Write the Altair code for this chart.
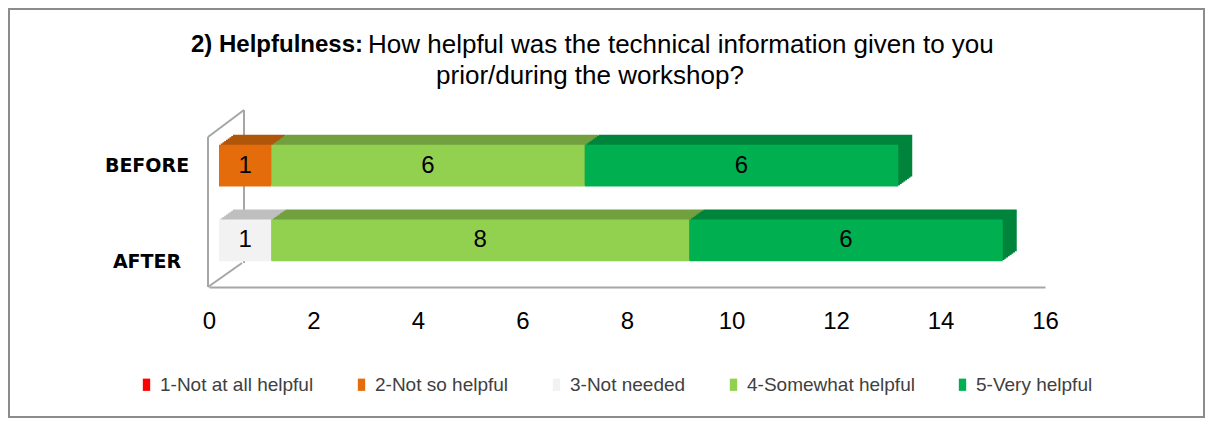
import altair as alt
import pandas as pd

# ---- data ----
periods = ["BEFORE", "AFTER"]
responses = ["1-Not at all helpful", "2-Not so helpful", "3-Not needed",
             "4-Somewhat helpful", "5-Very helpful"]
before_counts = [0, 1, 0, 6, 6]
after_counts = [0, 0, 1, 8, 6]
x_ticks = [0, 2, 4, 6, 8, 10, 12, 14, 16]
title_bold = "2) Helpfulness:"
title_rest = "How helpful was the technical information given to you"
title_line2 = "prior/during the workshop?"

# ---- styles ----
front_colors = ["#FF0000", "#E46C0A", "#F2F2F2", "#92D050", "#00B050"]
depth_colors = ["#B30000", "#B0560A", "#BFBFBF", "#73A03F", "#00843C"]
FONT = "Liberation Sans"
LABEL_FONT = "DejaVu Sans"
wall = "#A6A6A6"

rows = []
for p, counts in zip(periods, [before_counts, after_counts]):
    for i, (r, c) in enumerate(zip(responses, counts)):
        rows.append({"period": p, "response": r, "order": i, "count": c})
df = pd.DataFrame(rows)

x_scale = alt.Scale(domain=[0, 16], nice=False, zero=True)
y_scale = alt.Scale(domain=periods, paddingInner=0.44, paddingOuter=0.347)
x_axis = alt.Axis(values=x_ticks, grid=False, ticks=False, domainColor=wall,
                  domainWidth=2, labelFontSize=24, labelPadding=22, labelFlush=False,
                  labelColor="#000000", labelFont=FONT, title=None)

base = alt.Chart(df)

# pseudo-3D depth: several darker copies stepping back diagonally
N_STEPS = 8
depth_layers = []
for k in range(N_STEPS, 0, -1):
    depth_layers.append(
        base.mark_bar(xOffset=10 + 14 * k / N_STEPS, yOffset=-10 * k / N_STEPS).encode(
            x=alt.X("count:Q", stack="zero", scale=x_scale, axis=x_axis),
            y=alt.Y("period:N", scale=y_scale, axis=None),
            color=alt.Color("response:N", scale=alt.Scale(domain=responses, range=depth_colors),
                            legend=None),
            order=alt.Order("order:Q"),
        )
    )

front = base.mark_bar(xOffset=10).encode(
    x=alt.X("count:Q", stack="zero", scale=x_scale, axis=x_axis),
    y=alt.Y("period:N", scale=y_scale, axis=None),
    color=alt.Color("response:N", scale=alt.Scale(domain=responses, range=front_colors),
                    legend=alt.Legend(orient="none", legendX=-72, legendY=256,
                                      direction="horizontal", title=None,
                                      symbolType="M-0.6,-1H0.6V1H-0.6Z", symbolSize=150,
                                      symbolStrokeWidth=0, labelFontSize=19, labelFont=FONT,
                                      labelLimit=400,
                                      labelColor="#404040", labelOffset=4, columnPadding=38)),
    order=alt.Order("order:Q"),
)

values = base.transform_filter("datum.count > 0").transform_stack(
    stack="count", groupby=["period"], as_=["x0", "x1"], sort=[alt.SortField("order")]
).transform_calculate(mid="(datum.x0 + datum.x1) / 2").mark_text(
    dx=10, fontSize=24, font=FONT, color="#000000"
).encode(
    x=alt.X("mid:Q", scale=x_scale, axis=x_axis),
    y=alt.Y("period:N", scale=y_scale, axis=None),
    text="count:Q",
)

cat_df = pd.DataFrame({"period": periods})
cat_before = alt.Chart(cat_df).transform_filter("datum.period == 'BEFORE'").mark_text(
    font=LABEL_FONT, fontWeight="bold", fontSize=19, align="center", color="#000000"
).encode(y=alt.Y("period:N", scale=y_scale, axis=None), x=alt.value(-62), text="period:N")
cat_after = alt.Chart(cat_df).transform_filter("datum.period == 'AFTER'").mark_text(
    font=LABEL_FONT, fontWeight="bold", fontSize=19, align="center", dy=22, color="#000000"
).encode(y=alt.Y("period:N", scale=y_scale, axis=None), x=alt.value(-62), text="period:N")

t_df = pd.DataFrame({"a": [0]})
t1 = alt.Chart(t_df).mark_text(font=FONT, fontWeight="bold", fontSize=24, align="right",
                               baseline="middle", color="#000000").encode(
    x=alt.value(154), y=alt.value(-74), text=alt.value(title_bold))
t2 = alt.Chart(t_df).mark_text(font=FONT, fontSize=26, align="left",
                               baseline="middle", color="#000000").encode(
    x=alt.value(159), y=alt.value(-74), text=alt.value(title_rest))
t3 = alt.Chart(t_df).mark_text(font=FONT, fontSize=26, align="center",
                               baseline="middle", color="#000000").encode(
    x=alt.value(381), y=alt.value(-43), text=alt.value(title_line2))

def rule(x1, y1, x2, y2):
    return alt.Chart(t_df).mark_rule(color=wall, strokeWidth=2).encode(
        x=alt.value(x1), y=alt.value(y1), x2=alt.value(x2), y2=alt.value(y2))

walls = rule(-1, 18, -1, 168) + rule(-1, 18, 35, -9) + rule(35, -9, 35, 144) + rule(-1, 168, 33, 144)

border = alt.Chart(t_df).mark_rect(fill=None, stroke="#8C8C8C", strokeWidth=2).encode(
    x=alt.value(-200), x2=alt.value(995), y=alt.value(-110), y2=alt.value(298))

chart = alt.layer(border, walls, *depth_layers, front, values, cat_before, cat_after,
                  t1, t2, t3).resolve_scale(
    color="independent"
).properties(
    width=836, height=168,
    autosize=alt.AutoSizeParams(type="none"),
    padding={"left": 201, "top": 111, "right": 160, "bottom": 131},
).configure_view(stroke=None)

chart.save("out.html", embed_options={"renderer": "svg", "actions": False})
